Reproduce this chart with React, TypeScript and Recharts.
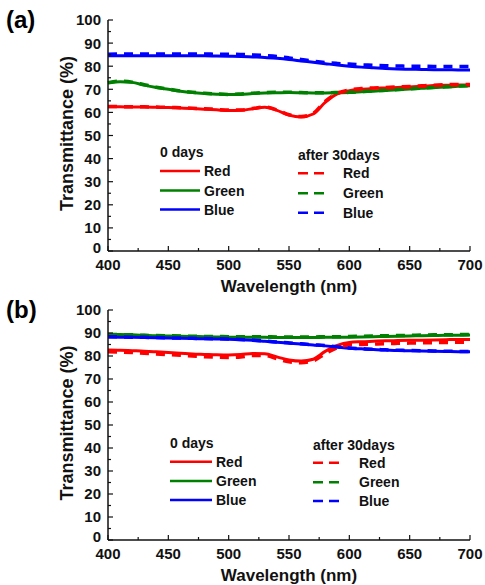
import { Line, LineChart, XAxis, YAxis } from "recharts";

const FONT = "Arial, 'Liberation Sans', Helvetica, sans-serif";

const wavelengths = [
  400, 410, 420, 430, 440, 450, 460, 470, 480, 490, 500, 510, 520, 530, 540, 550,
  560, 570, 580, 590, 600, 610, 620, 630, 640, 650, 660, 670, 680, 690, 700,
];

// (a) 0 days / after 30 days
const redA0 = [62.4, 62.4, 62.3, 62.3, 62.2, 62.1, 61.9, 61.7, 61.4, 61.1, 60.8, 60.9, 61.6, 62.2, 60.9, 58.8, 58.0, 59.3, 64.3, 68.0, 69.4, 70.0, 70.4, 70.6, 70.8, 71.0, 71.3, 71.6, 71.8, 71.9, 71.9];
const redA30 = [62.6, 62.5, 62.5, 62.4, 62.3, 62.2, 62.0, 61.8, 61.6, 61.3, 61.0, 61.0, 61.7, 62.3, 61.1, 59.0, 58.2, 59.6, 64.8, 68.3, 69.7, 70.3, 70.6, 70.8, 71.0, 71.2, 71.5, 71.8, 72.0, 72.1, 72.1];
const greenA0 = [72.7, 73.3, 73.0, 71.8, 70.8, 70.0, 69.2, 68.6, 68.2, 67.9, 67.7, 67.8, 68.2, 68.4, 68.5, 68.6, 68.5, 68.4, 68.4, 68.5, 68.6, 68.9, 69.2, 69.5, 69.8, 70.1, 70.4, 70.8, 71.0, 71.3, 71.5];
const greenA30 = [72.9, 73.5, 73.1, 72.0, 70.9, 70.1, 69.3, 68.7, 68.3, 68.0, 67.8, 68.0, 68.3, 68.6, 68.7, 68.7, 68.6, 68.5, 68.5, 68.6, 68.7, 69.0, 69.3, 69.6, 69.9, 70.2, 70.5, 70.8, 71.1, 71.4, 71.6];
const blueA0 = [84.5, 84.5, 84.5, 84.5, 84.5, 84.5, 84.5, 84.5, 84.5, 84.4, 84.3, 84.2, 84.0, 83.8, 83.4, 82.9, 82.3, 81.7, 81.1, 80.5, 80.0, 79.6, 79.3, 79.0, 78.8, 78.7, 78.6, 78.5, 78.5, 78.4, 78.4];
const blueA30 = [85.2, 85.3, 85.3, 85.3, 85.3, 85.3, 85.3, 85.3, 85.3, 85.2, 85.2, 85.1, 84.9, 84.6, 84.2, 83.6, 82.9, 82.2, 81.6, 81.2, 80.9, 80.6, 80.4, 80.2, 80.1, 80.0, 80.0, 79.9, 79.9, 79.9, 79.9];

// (b) 0 days / after 30 days
const redB0 = [82.6, 82.5, 82.3, 82.1, 81.8, 81.5, 81.2, 80.9, 80.7, 80.5, 80.4, 80.6, 81.1, 81.0, 79.6, 78.3, 77.8, 78.6, 82.0, 84.6, 85.9, 86.2, 86.4, 86.6, 86.7, 86.8, 86.9, 87.0, 87.1, 87.2, 87.2];
const redB30 = [81.8, 81.7, 81.5, 81.2, 80.9, 80.6, 80.3, 80.0, 79.7, 79.5, 79.4, 79.6, 80.2, 80.2, 78.8, 77.5, 77.1, 77.9, 81.0, 83.6, 84.8, 85.0, 85.2, 85.4, 85.5, 85.6, 85.7, 85.8, 85.9, 86.0, 86.0];
const greenB0 = [89.3, 89.3, 89.2, 89.0, 88.8, 88.7, 88.6, 88.5, 88.4, 88.3, 88.2, 88.2, 88.1, 88.1, 88.0, 88.0, 88.0, 88.0, 88.1, 88.1, 88.2, 88.3, 88.4, 88.5, 88.6, 88.7, 88.8, 88.9, 89.0, 89.0, 89.1];
const greenB30 = [89.3, 89.3, 89.2, 89.0, 88.9, 88.8, 88.7, 88.6, 88.5, 88.5, 88.4, 88.4, 88.4, 88.4, 88.3, 88.3, 88.3, 88.3, 88.4, 88.4, 88.5, 88.6, 88.7, 88.8, 88.9, 89.0, 89.1, 89.2, 89.2, 89.3, 89.4];
const blueB0 = [88.3, 88.2, 88.1, 88.0, 87.9, 87.8, 87.7, 87.6, 87.5, 87.4, 87.3, 87.1, 86.8, 86.4, 86.0, 85.6, 85.2, 84.8, 84.4, 83.9, 83.4, 83.1, 82.8, 82.6, 82.4, 82.3, 82.2, 82.1, 82.0, 81.9, 81.9];
const blueB30 = [88.4, 88.3, 88.2, 88.1, 88.0, 87.9, 87.8, 87.7, 87.6, 87.5, 87.4, 87.2, 86.9, 86.5, 86.1, 85.7, 85.3, 84.9, 84.5, 84.0, 83.5, 83.2, 82.9, 82.7, 82.5, 82.4, 82.3, 82.2, 82.1, 82.0, 82.0];

const yTicks = [0, 5, 10, 15, 20, 25, 30, 35, 40, 45, 50, 55, 60, 65, 70, 75, 80, 85, 90, 95, 100];
const xTicks = [400, 425, 450, 475, 500, 525, 550, 575, 600, 625, 650, 675, 700];
const seriesNames = ["Red", "Green", "Blue"];
const seriesColors = ["#ff0000", "#008000", "#0000ff"];

const dataA = wavelengths.map((wl, i) => ({
  wl,
  red0: redA0[i], red30: redA30[i],
  green0: greenA0[i], green30: greenA30[i],
  blue0: blueA0[i], blue30: blueA30[i],
}));

const dataB = wavelengths.map((wl, i) => ({
  wl,
  red0: redB0[i], red30: redB30[i],
  green0: greenB0[i], green30: greenB30[i],
  blue0: blueB0[i], blue30: blueB30[i],
}));

const labelStyle = { fontFamily: FONT, fontWeight: 700, fill: "#111" };

// tick label sits tickMargin (6) left of the axis line; ticks point inward
function LeftTick(props: any) {
  const { x, y, payload } = props;
  const major = payload.value % 10 === 0;
  const ax = x + 6;
  // the "0" sits a touch higher so it clears the "400" below it
  const ly = payload.value === 0 ? y - 3 : y;
  return (
    <g>
      <line x1={ax} x2={ax + (major ? 5 : 3)} y1={y} y2={y} stroke="#111" strokeWidth={1.2} />
      {major && (
        <text x={x - 1} y={ly} dy="0.36em" textAnchor="end" fontSize={15} {...labelStyle}>
          {payload.value}
        </text>
      )}
    </g>
  );
}

function RightTick(props: any) {
  const { x, y, payload } = props;
  const major = payload.value % 10 === 0;
  return <line x1={x} x2={x - (major ? 5 : 3)} y1={y} y2={y} stroke="#111" strokeWidth={1.2} />;
}

function BottomTick(props: any) {
  const { x, y, payload } = props;
  const major = payload.value % 50 === 0;
  const ay = y - 6;
  return (
    <g>
      <line x1={x} x2={x} y1={ay} y2={ay - (major ? 5 : 3)} stroke="#111" strokeWidth={1.2} />
      {major && (
        <text x={x} y={y + 1} dy="0.78em" textAnchor="middle" fontSize={15} {...labelStyle}>
          {payload.value}
        </text>
      )}
    </g>
  );
}

function LegendBlock({ x0, len0, text0, x1, len1, text1, yHead0, yHead1, rows0, rows1 }: any) {
  return (
    <g>
      <text x={x0} y={yHead0} dy="0.36em" fontSize={14} {...labelStyle}>0 days</text>
      <text x={x1} y={yHead1} dy="0.36em" fontSize={14} {...labelStyle}>after 30days</text>
      {seriesNames.map((name, i) => (
        <g key={name}>
          <line x1={x0} x2={x0 + len0} y1={rows0[i]} y2={rows0[i]} stroke={seriesColors[i]} strokeWidth={2.5} />
          <text x={text0} y={rows0[i]} dy="0.36em" fontSize={14} {...labelStyle}>{name}</text>
          <line x1={x1} x2={x1 + len1} y1={rows1[i]} y2={rows1[i]} stroke={seriesColors[i]} strokeWidth={2.5} strokeDasharray="10 6" />
          <text x={text1} y={rows1[i]} dy="0.36em" fontSize={14} {...labelStyle}>{name}</text>
        </g>
      ))}
    </g>
  );
}

function Panel({ data, tag, height, bottom, legend }: any) {
  const plotBottom = height - bottom - 30;
  return (
    <LineChart width={485} height={height} data={data} margin={{ top: 20, right: 15, bottom, left: 0 }}>
      <XAxis
        dataKey="wl"
        type="number"
        domain={[400, 700]}
        ticks={xTicks}
        interval={0}
        height={30}
        tickSize={0}
        tickMargin={6}
        tickLine={false}
        tick={BottomTick}
        axisLine={{ stroke: "#111", strokeWidth: 1.5 }}
      />
      <XAxis
        xAxisId="top"
        dataKey="wl"
        type="number"
        orientation="top"
        domain={[400, 700]}
        height={0}
        tick={false}
        tickLine={false}
        axisLine={{ stroke: "#555", strokeWidth: 1.5 }}
      />
      <YAxis
        type="number"
        domain={[0, 100]}
        ticks={yTicks}
        interval={0}
        width={108}
        tickSize={0}
        tickMargin={6}
        tickLine={false}
        tick={LeftTick}
        axisLine={{ stroke: "#111", strokeWidth: 1.5 }}
      />
      <YAxis
        yAxisId="r"
        orientation="right"
        type="number"
        domain={[0, 100]}
        ticks={yTicks}
        interval={0}
        width={0}
        tickSize={0}
        tickMargin={0}
        tickLine={false}
        tick={RightTick}
        axisLine={false}
      />
      <Line type="monotone" dataKey="green0" stroke="#008000" strokeWidth={3} dot={false} isAnimationActive={false} />
      <Line type="monotone" dataKey="red0" stroke="#ff0000" strokeWidth={3} dot={false} isAnimationActive={false} />
      <Line type="monotone" dataKey="blue0" stroke="#0000ff" strokeWidth={3} dot={false} isAnimationActive={false} />
      <Line type="monotone" dataKey="green30" stroke="#008000" strokeWidth={3.5} strokeDasharray="9 7" dot={false} isAnimationActive={false} />
      <Line type="monotone" dataKey="red30" stroke="#ff0000" strokeWidth={3.5} strokeDasharray="9 7" dot={false} isAnimationActive={false} />
      <Line type="monotone" dataKey="blue30" stroke="#0000ff" strokeWidth={3.5} strokeDasharray="9 7" dot={false} isAnimationActive={false} />
      <text x={6} y={28} fontSize={24} {...labelStyle} fill="#000">{tag}</text>
      <text
        transform={`translate(67, ${(20 + plotBottom) / 2 - 2}) rotate(-90)`}
        textAnchor="middle"
        dy="0.36em"
        fontSize={18}
        {...labelStyle}
      >
        Transmittance (%)
      </text>
      <text x={289} y={plotBottom + 35} dy="0.36em" textAnchor="middle" fontSize={17} {...labelStyle}>
        Wavelength (nm)
      </text>
      <LegendBlock {...legend} />
    </LineChart>
  );
}

export default function App() {
  return (
    <div style={{ position: "absolute", left: 0, top: 0, width: 485, height: 585, background: "#fff" }}>
      <div style={{ position: "absolute", left: 0, top: 0 }}>
        <Panel
          data={dataA}
          tag="(a)"
          height={298}
          bottom={17}
          legend={{
            x0: 160, len0: 40, text0: 204, x1: 298, len1: 26, text1: 343,
            yHead0: 152, yHead1: 155, rows0: [171, 190.5, 209.5], rows1: [173.3, 193.3, 212.7],
          }}
        />
      </div>
      <div style={{ position: "absolute", left: 0, top: 290 }}>
        <Panel
          data={dataB}
          tag="(b)"
          height={295}
          bottom={15}
          legend={{
            x0: 170, len0: 42, text0: 216, x1: 313, len1: 26, text1: 359,
            yHead0: 153, yHead1: 155, rows0: [171.7, 191, 210], rows1: [172.7, 192.3, 211],
          }}
        />
      </div>
    </div>
  );
}
